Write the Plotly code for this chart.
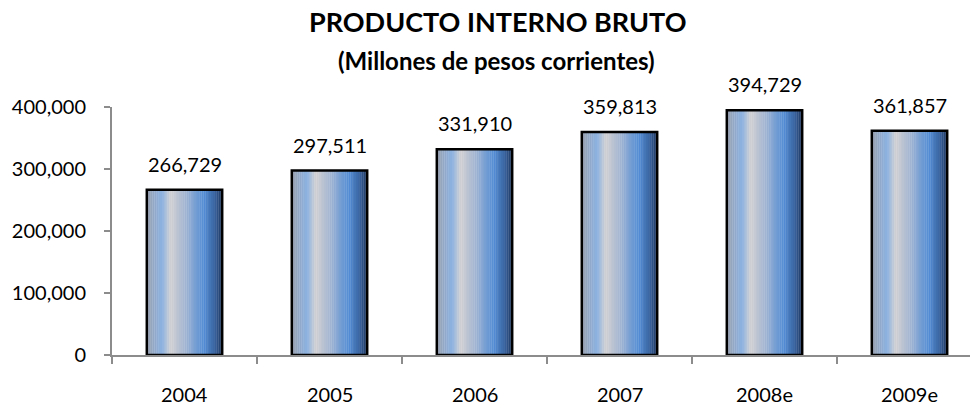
import plotly.graph_objects as go

categories = ["2004", "2005", "2006", "2007", "2008e", "2009e"]
values = [266729, 297511, 331910, 359813, 394729, 361857]
y_ticks = [0, 100000, 200000, 300000, 400000]
y_tick_labels = ["0", "100,000", "200,000", "300,000", "400,000"]
title = "PRODUCTO INTERNO BRUTO"
subtitle = "(Millones de pesos corrientes)"

# horizontal gradient stops (position, rgb)
stops = [
    (0.00, (152, 160, 174)),
    (0.20, (140, 178, 226)),
    (0.32, (208, 208, 210)),
    (0.50, (165, 182, 210)),
    (0.76, (82, 140, 212)),
    (0.90, (58, 100, 160)),
    (1.00, (28, 52, 92)),
]

def grad(t):
    for (p0, c0), (p1, c1) in zip(stops[:-1], stops[1:]):
        if p0 <= t <= p1:
            f = (t - p0) / (p1 - p0) if p1 > p0 else 0
            return "rgb(%d,%d,%d)" % tuple(round(a + (b - a) * f) for a, b in zip(c0, c1))
    return "rgb(%d,%d,%d)" % stops[-1][1]

FONT = "Lato"
bar_w = 0.52
n = 40
idx = list(range(len(categories)))
fig = go.Figure()
for i in range(n):
    fig.add_trace(go.Bar(
        x=categories, y=values,
        width=bar_w / n * 1.15, offset=-bar_w / 2 + i * bar_w / n,
        marker=dict(color=grad((i + 0.5) / n), line=dict(width=0)),
        hoverinfo="skip", showlegend=False,
    ))
fig.add_trace(go.Bar(
    x=categories, y=values, width=bar_w, offset=-bar_w / 2,
    marker=dict(color="rgba(0,0,0,0)", line=dict(color="black", width=2.5)),
    showlegend=False,
))

L, R, T, B = 112, 1, 107, 50
PW, PH = 971 - L - R, 405 - T - B
CAT_PX = 145  # pixel width of one category slot

fig.update_layout(
    width=971, height=405,
    barmode="overlay",
    margin=dict(l=L, r=R, t=T, b=B),
    plot_bgcolor="white", paper_bgcolor="white",
    font=dict(family=FONT, size=20, color="black"),
    xaxis=dict(
        type="category", categoryorder="array", categoryarray=categories,
        range=[-0.5, -0.5 + PW / CAT_PX], autorange=False,
        showline=True, linecolor="#8c8c8c", linewidth=2,
        ticks="outside", tickson="boundaries", ticklen=7, tickwidth=2, tickcolor="#8c8c8c",
        showgrid=False, showticklabels=False, zeroline=False,
    ),
    yaxis=dict(
        range=[0, 400000], autorange=False, tickvals=y_ticks, ticktext=y_tick_labels,
        showline=True, linecolor="#8c8c8c", linewidth=2,
        ticks="outside", ticklen=6, tickwidth=2, tickcolor="#8c8c8c",
        showgrid=False, zeroline=False, tickfont=dict(family=FONT, size=20),
        ticklabelstandoff=14,
    ),
)
for i, c, v in zip(idx, categories, values):
    fig.add_annotation(x=i, y=v, text=f"{v:,}", showarrow=False, yanchor="bottom",
                       yshift=12, font=dict(family=FONT, size=20, color="black"))
    fig.add_annotation(x=i, y=0, text=c, showarrow=False, yanchor="middle",
                       yshift=-39, font=dict(family=FONT, size=20, color="black"))
fig.add_annotation(text=f"<b>{title}</b>", xref="paper", yref="paper",
                   x=(497 - L) / PW, y=1 + (T - 21) / PH, xanchor="center", yanchor="middle",
                   showarrow=False, font=dict(family=FONT, size=27))
fig.add_annotation(text=f"<b>{subtitle}</b>", xref="paper", yref="paper",
                   x=(496 - L) / PW, y=1 + (T - 60) / PH, xanchor="center", yanchor="middle",
                   showarrow=False, font=dict(family=FONT, size=24))
fig.write_html("out.html", config={"displayModeBar": False},
               post_script="document.body.style.margin='0';")
